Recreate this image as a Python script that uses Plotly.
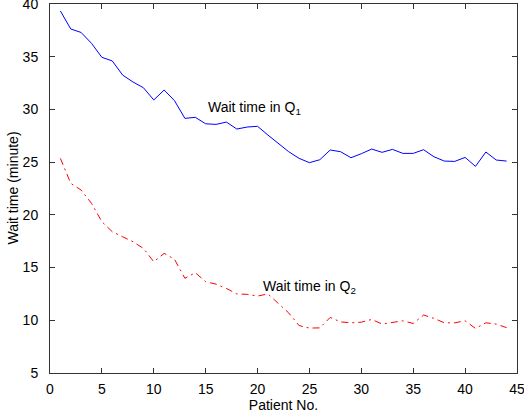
import plotly.graph_objects as go

patients = list(range(1, 45))
wait_q1 = [39.34, 37.63, 37.3, 36.27, 34.94, 34.6, 33.26, 32.6, 32.06, 30.9,
           31.84, 30.83, 29.15, 29.25, 28.64, 28.58, 28.8, 28.14, 28.33, 28.4,
           27.57, 26.8, 25.99, 25.36, 24.95, 25.23, 26.15, 25.99, 25.42, 25.8,
           26.24, 25.93, 26.21, 25.83, 25.83, 26.18, 25.51, 25.1, 25.07, 25.45,
           24.6, 25.96, 25.2, 25.1]
wait_q2 = [25.36, 22.99, 22.35, 21.09, 19.35, 18.4, 17.92, 17.45, 16.82, 15.55,
           16.35, 15.78, 13.98, 14.51, 13.66, 13.43, 13.02, 12.5, 12.46, 12.3,
           12.5, 11.6, 10.7, 9.5, 9.26, 9.28, 10.27, 9.85, 9.76, 9.82,
           10.08, 9.64, 9.82, 9.95, 9.7, 10.5, 10.18, 9.76, 9.76, 9.95,
           9.23, 9.76, 9.64, 9.3]
x_ticks = [0, 5, 10, 15, 20, 25, 30, 35, 40, 45]
y_ticks = [5, 10, 15, 20, 25, 30, 35, 40]

font = "Liberation Sans, Arial, Helvetica, sans-serif"

fig = go.Figure()
fig.add_trace(go.Scatter(x=patients, y=wait_q1, mode="lines",
                         line=dict(color="#0000ff", width=1), showlegend=False))
fig.add_trace(go.Scatter(x=patients, y=wait_q2, mode="lines",
                         line=dict(color="#ff0000", width=1, dash="7px,4px,2px,4px"),
                         showlegend=False))

fig.add_annotation(x=15.0, y=30.15, xref="x", yref="y", text="Wait time in Q<sub>1</sub>",
                   showarrow=False, xanchor="left", yanchor="middle",
                   font=dict(family=font, size=14, color="#000"))
fig.add_annotation(x=20.3, y=13.2, xref="x", yref="y", text="Wait time in Q<sub>2</sub>",
                   showarrow=False, xanchor="left", yanchor="middle",
                   font=dict(family=font, size=14, color="#000"))
fig.add_annotation(x=0, y=0.5, xref="paper", yref="paper", xshift=-38,
                   text="Wait time (minute)", textangle=-90, showarrow=False,
                   xanchor="center", yanchor="middle",
                   font=dict(family=font, size=14, color="#000"))

axis_common = dict(showline=True, linecolor="#333", linewidth=1, mirror="ticks",
                   ticks="inside", ticklen=5, tickcolor="#333", showgrid=False,
                   zeroline=False, automargin=False, ticklabeloverflow="allow",
                   tickfont=dict(family=font, size=14, color="#000"))

fig.update_xaxes(range=[0, 45], tickvals=x_ticks, ticklabelstandoff=3,
                 title=dict(text="Patient No.", font=dict(family=font, size=14, color="#000"), standoff=1),
                 **axis_common)
fig.update_yaxes(range=[5, 40], tickvals=y_ticks, ticklabelstandoff=8,
                 **axis_common)

fig.update_layout(width=524, height=417, margin=dict(l=50, r=7, t=4, b=44),
                  paper_bgcolor="white", plot_bgcolor="white",
                  font=dict(family=font))
fig.write_html("out.html", config={"displayModeBar": False},
               post_script="document.body.style.margin='0';document.body.style.overflow='hidden';")
